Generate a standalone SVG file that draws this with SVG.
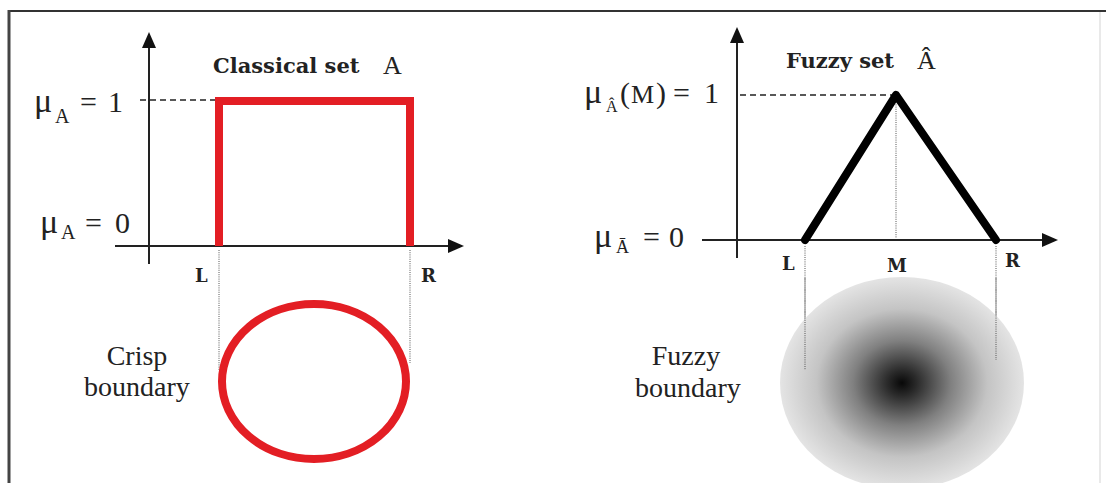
<svg xmlns="http://www.w3.org/2000/svg" width="1106" height="483" viewBox="0 0 1106 483">
<style>
.ax{stroke:#222;stroke-width:2;fill:none}
.dash{stroke:#222;stroke-width:1.3;stroke-dasharray:6 4;fill:none}
.dot{stroke:#555;stroke-width:1;stroke-dasharray:1 1.2;fill:none}
.head{fill:#111}
.ttl{font-family:"DejaVu Serif",serif;font-weight:bold;font-size:21px;fill:#222}
.lbl{font-family:"DejaVu Serif",serif;font-weight:bold;font-size:18px;fill:#222}
.ser{font-family:"Liberation Serif","Times New Roman",serif;fill:#222;font-size:30px}
.mug{font-size:34px}
.sub{font-size:20px}
.txt{font-family:"Liberation Serif","Times New Roman",serif;font-size:28px;fill:#222;text-anchor:middle}
</style>
<defs>
<radialGradient id="fz" cx="0.5" cy="0.5" r="0.5">
<stop offset="0" stop-color="#080808"/>
<stop offset="0.12" stop-color="#2a2a2a"/>
<stop offset="0.4" stop-color="#808080"/>
<stop offset="0.7" stop-color="#c4c4c4"/>
<stop offset="1" stop-color="#e4e4e4"/>
</radialGradient>
</defs>
<rect width="1106" height="483" fill="#fff"/>
<g id="frame">
<line x1="8" y1="11" x2="1106" y2="11" stroke="#333" stroke-width="2"/>
<line x1="9" y1="10" x2="9" y2="483" stroke="#444" stroke-width="3"/>
<line x1="1100" y1="12" x2="1100" y2="483" stroke="#e2e2e2" stroke-width="1.5"/>
</g>
<g id="connectors">
<line class="ax" x1="149" y1="45" x2="149" y2="264"/>
<polygon class="head" points="149,32 142,48 156,48"/>
<line class="ax" x1="115" y1="246" x2="450" y2="246"/>
<polygon class="head" points="464,246 448,239 448,253"/>
<line class="dash" x1="140" y1="100" x2="215" y2="100"/>
<line class="dot" x1="219" y1="250" x2="219" y2="370"/>
<line class="dot" x1="410" y1="250" x2="410" y2="363"/>
<line class="ax" x1="737" y1="40" x2="737" y2="258"/>
<polygon class="head" points="737,27 730,43 744,43"/>
<line class="ax" x1="702" y1="240" x2="1044" y2="240"/>
<polygon class="head" points="1058,240 1042,233 1042,247"/>
<line class="dash" x1="740" y1="95" x2="893" y2="95"/>
<line class="dot" x1="896" y1="100" x2="896" y2="238" stroke="#333"/>
<line class="dot" x1="805" y1="246" x2="805" y2="370"/>
<line class="dot" x1="996" y1="246" x2="996" y2="360"/>
</g>
<g id="classical-set">
<path d="M219,246 V101 H410 V246" fill="none" stroke="#e31e24" stroke-width="8" stroke-linejoin="miter"/>
<text class="ttl" x="213" y="73">Classical set</text>
<text class="ser" x="383" y="74" style="font-size:26px">A</text>
</g>
<g id="left-labels">
<text class="ser" x="34" y="112"><tspan class="mug">μ</tspan><tspan class="sub" x="55" y="123">A</tspan><tspan x="80" y="112">=</tspan><tspan x="108" y="112">1</tspan></text>
<text class="ser" x="40" y="233"><tspan class="mug">μ</tspan><tspan class="sub" x="61" y="239">A</tspan><tspan x="85" y="233">=</tspan><tspan x="115" y="233">0</tspan></text>
<text class="lbl" x="195" y="282">L</text>
<text class="lbl" x="421" y="282">R</text>
</g>
<g id="crisp-boundary">
<ellipse cx="314" cy="381.5" rx="92" ry="77.5" fill="none" stroke="#e31e24" stroke-width="8"/>
<text class="txt" x="137" y="365">Crisp</text>
<text class="txt" x="137" y="396">boundary</text>
</g>
<g id="fuzzy-set">
<polyline points="805,240 896,95 996,240" fill="none" stroke="#000" stroke-width="8" stroke-linejoin="round" stroke-linecap="round"/>
<text class="ttl" x="786" y="68">Fuzzy set</text>
<text class="ser" x="917" y="69" style="font-size:26px">Â</text>
</g>
<g id="right-labels">
<text class="ser" x="584" y="103"><tspan class="mug">μ</tspan><tspan x="606" y="112" style="font-size:16px">Â</tspan><tspan x="620" y="103">(</tspan><tspan x="631" y="103" style="font-size:26px">M</tspan><tspan x="656" y="103">)</tspan><tspan x="673" y="103">=</tspan><tspan x="704" y="103">1</tspan></text>
<text class="ser" x="594" y="247"><tspan class="mug">μ</tspan><tspan x="616" y="253" style="font-size:18px">Ā</tspan><tspan x="643" y="247">=</tspan><tspan x="669" y="247">0</tspan></text>
<text class="lbl" x="782" y="270">L</text>
<text class="lbl" x="887" y="272">M</text>
<text class="lbl" x="1005" y="267">R</text>
</g>
<g id="fuzzy-boundary">
<ellipse cx="902" cy="383" rx="122" ry="106" fill="url(#fz)"/>
<line class="dot" x1="805" y1="278" x2="805" y2="370" stroke="#888"/>
<line class="dot" x1="996" y1="278" x2="996" y2="360" stroke="#888"/>
<text class="txt" x="686" y="365">Fuzzy</text>
<text class="txt" x="688" y="397">boundary</text>
</g>
</svg>
